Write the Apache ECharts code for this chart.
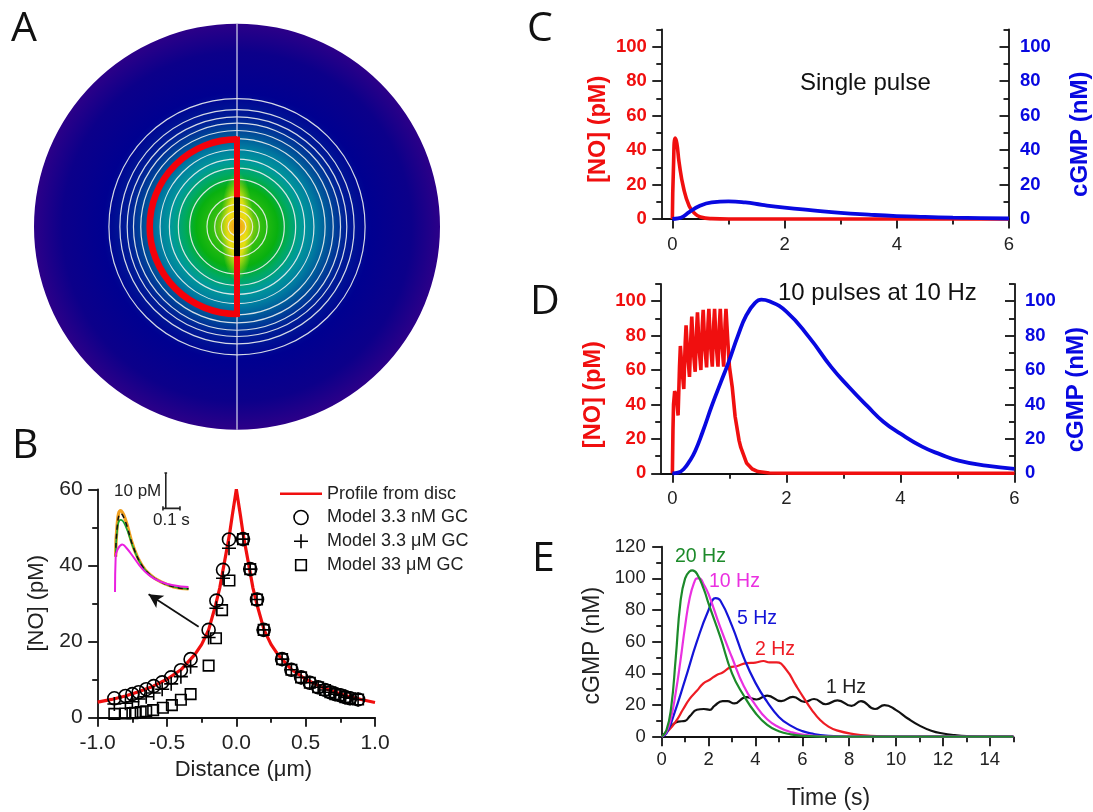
<!DOCTYPE html>
<html><head><meta charset="utf-8">
<style>html,body{margin:0;padding:0;background:#fff}#c{width:1093px;height:812px}</style>
<script src="https://cdn.jsdelivr.net/npm/echarts@6/dist/echarts.min.js"></script>
</head><body><div id="c"></div>
<script>
// ---------- Panel A ----------
const contourRadii = [.631,.577,.541,.510,.474,.434,.379,.333,.289,.233,.148,.110,.077,.044];
const discStops = [0,.03,.07,.12,.2,.26,.32,.39,.46,.54,.66,.86,1];
const discColors = ['#f09a1e','#e8b818','#90cc10','#30be10','#08b010','#00aa60','#009a98','#007ca0','#004e98','#001c96','#000090','#0c008a','#2c0088'];
const contourRingX=[0,0], wholeLineY=[-1,1], redLineY=[-.43,.43], blackLineY=[-.145,.145];
// ---------- Panel B ----------
const profileX = [-1,-.9,-.8,-.7,-.6,-.5,-.4,-.3,-.25,-.2,-.15,-.12,-.1,-.07,-.05,-.03,0,.03,.05,.07,.1,.12,.15,.2,.25,.3,.4,.5,.6,.7,.8,.9,1];
const profileY = [4,4.7,5.6,6.8,8.2,10,12.5,16.5,19.2,23,29.5,34,38,44,48,53,60,53,48,44,38,34,29.5,23,19.2,16.5,12.5,10,8.2,6.8,5.6,4.7,3.9];
const rightX = [.048,.1,.149,.197,.33,.397,.467,.53,.59,.64,.678,.714,.75,.786,.82,.878];
const rightY = [46.9,39,31,23,15.3,12.5,10.5,9.1,7.9,7.2,6.6,6.1,5.8,5.3,5,4.7];
const leftX = [-.053,-.096,-.144,-.2,-.33,-.4,-.47,-.535,-.596,-.65,-.705,-.75,-.8,-.88];
const circleY = [46.8,38.8,30.7,23,15.3,12.4,10.5,9.2,8.2,7.4,6.6,6.1,5.6,5];
const plusY = [44.5,36.6,28.7,21,13.3,10.7,8.8,7.4,6.4,5.4,4.8,4.1,3.7,3.5];
const squareLeftX = [-.05,-.103,-.147,-.2,-.33,-.4,-.465,-.53,-.6,-.65,-.69,-.73,-.75,-.8,-.88];
const squareLeftY = [36,28.2,20.8,13.6,6.1,4.6,3.2,2.5,1.9,1.6,1.4,1.2,1.1,1,.9];
const bXTicks=[-1,-.5,0,.5,1], bXMinor=[-.75,-.25,.25,.75], bYTicks=[0,20,40,60], bYMinor=[10,30,50];
// inset
const insetT = [.004,.014,.034,.06,.11,.16,.21,.27,.35,.44];
const insetOrange = [10.1,19.6,23.2,21,12.9,7.7,4.9,3,1.5,.9];
const insetGreen = [10.1,18,20.6,19.2,12.6,7.6,4.9,3,1.5,.9];
const insetBlack = [10.1,19,22.4,20.4,12.8,7.7,4.9,3,1.5,.9];
const insetMagT = [0,.004,.014,.044,.07,.11,.16,.21,.27,.35,.44];
const insetMag = [0,10,12,13.6,12.5,10,6.8,4.6,3,1.9,1.4];
const barX = [.304,.304,null,.287,.389,null,.296,.312,null,.296,.312,null,.287,.287,null,.389,.389];
const barY = [23.9,34,null,23.9,23.9,null,34,34,null,23.9,23.9,null,23.3,24.5,null,23.3,24.5];
const arrowFrom=[-.272,23.8], arrowTo=[-.633,32.4];
// ---------- Panel C ----------
const cNoT = [0,.02,.05,.08,.12,.2,.3,.4,.5,.7,1,6];
const cNoY = [0,30,47,44,33,18,7.5,3.2,1.2,.2,0,0];
const cCgT = [0,.1,.2,.3,.5,.7,1,1.3,1.6,2,2.5,3,3.5,4,4.5,5,5.5,6];
const cCgY = [0,.3,1.5,4,7.8,9.6,10.2,9.6,8.2,6.6,5,3.5,2.5,1.7,1.2,.8,.5,.3];
// ---------- Panel D ----------
const dNoT = [0,.01,.02,.04,.07,.1,.125,.14,.17,.2,.225,.24,.27,.3,.325,.34,.37,.4,.425,.44,.47,.5,.525,.54,.57,.6,.625,.64,.67,.7,.725,.74,.77,.8,.825,.84,.87,.9,.925,.94,.97,1,1.05,1.1,1.17,1.2,1.3,1.4,1.5,1.7,2,6];
const dNoY = [0,25,40,47.7,45,33.6,62,74,60,49,76,86,68,56,80,91,70,59,84,93.6,72,60,86,95,73,61.5,87,95.5,74,62,87,95.5,74,62,87,95.5,74,62,87,95.5,78,62,50,33,19,15,6,2.5,1,.2,0,0];
const dCgT = [0,.1,.2,.3,.4,.53,.7,.85,.98,1.15,1.3,1.45,1.56,1.7,2,2.4,2.78,3.1,3.42,3.7,4,4.38,4.7,5.02,5.5,6];
const dCgY = [0,.4,2.5,7,13,24,40,53,64,80,92,99,100.9,100,94,79,62,50,39,30,23,15.5,11,7.4,4.4,2.6];
// ---------- Panel E ----------
const eHz20T=[0,.2,.4,.6,.8,1,1.2,1.3,1.5,1.8,2,2.5,3,3.5,4,4.5,5,5.5,6,7,15];
const eHz20=[0,4,18,50,85,100,104.5,105,103,93,84,63,40,26,15,7.5,3.5,1.5,.6,.1,0];
const eHz10T=[0,.2,.4,.6,.8,1,1.2,1.4,1.5,1.6,1.8,2,2.5,3,3.5,4,4.5,5,5.5,6,7,8,15];
const eHz10=[0,3,12,28,48,70,88,98,100,100,96,90,69,50,32,20,11,6,3,1.3,.2,0,0];
const eHz5T=[0,.2,.5,1,1.5,2,2.3,2.5,3,3.5,4,4.5,5,5.5,6,6.5,7,8,15];
const eHz5=[0,2,13,36,60,80,87.5,86,70,50,34,22,12.5,7,3.5,1.7,.7,.1,0];
const eHz2T=[0,.3,.64,.9,1.2,1.5,1.78,2.05,2.35,2.6,2.92,3.2,3.63,4,4.34,4.6,4.9,5.33,5.7,6.04,6.4,6.76,7.1,7.47,8.18,8.9,10,15];
const eHz2=[0,4,10.5,17,24,29,33.7,36,39,40.5,43.8,44.5,46.5,46.8,47.8,47,47,42,33,25,17,10.5,6.5,4,1.7,.6,.1,0];
const eHz1T=[0,.25,.5,.7,1,1.2,1.5,1.8,2.05,2.25,2.6,2.8,3.1,3.6,4.05,4.5,5.1,5.6,6.1,6.5,7,7.5,8.1,8.5,9.1,9.5,10,10.5,11,11.5,12,12.5,13,14,15];
const eHz1=[0,4,8,9.5,10,13,17,17.5,17,19.5,22.5,22.5,21,25,23.5,26,22.5,25.2,22,23.8,20.5,23,19.5,22.5,17.5,20,16.8,11.5,7,3.8,2,1,.4,0,0];
const cdTicks=[0,2,4,6], cdMinor=[1,3,5];
const yTicks100=[0,20,40,60,80,100], yMinor100=[10,30,50,70,90,110];
const eXTicks=[0,2,4,6,8,10,12,14], eXMinor=[1,3,5,7,9,11,13,15];
const eYTicks=[0,20,40,60,80,100,120], eYMinor=[10,30,50,70,90,110];

const pairs=(xs,ys)=>xs.map((x,i)=>[x,ys[i]]);
const FONT='"Liberation Sans",Arial,sans-serif', INK='#222', RED='#f00f0f', BLUE='#0808e0', GREEN='#1c8a2a', MAG='#ea30e0';

const grid=[
 {left:34,top:23.7,width:406,height:406},          //0 A
 {left:97.7,top:489.3,width:277.3,height:228},     //1 B
 {left:115,top:470,width:75,height:122},           //2 inset
 {left:661.8,top:29.5,width:349.8,height:189.5},   //3 C
 {left:660.7,top:284,width:353.8,height:189.3},    //4 D
 {left:661.7,top:546.7,width:351.6,height:190}     //5 E
].map(g=>({...g,containLabel:false}));

const xAxis=[], yAxis=[];
function addPair(list,base,majors,minors,lab){
  const line={color:'#111',width:1.8};
  const idx=list.length;
  list.push({...base,type:'value',splitLine:{show:false},
    axisLine:{show:true,onZero:false,lineStyle:line},
    axisTick:{show:true,customValues:majors,length:9.5,inside:!!base.tickIn,lineStyle:line},
    minorTick:{show:false},
    axisLabel:{show:true,customValues:majors,fontFamily:FONT,hideOverlap:false,...lab}});
  list.push({type:'value',gridIndex:base.gridIndex,position:base.position,min:base.min,max:base.max,splitLine:{show:false},
    axisLine:{show:false,onZero:false},
    axisTick:{show:true,customValues:minors,length:5.5,inside:!!base.tickIn,lineStyle:line},
    axisLabel:{show:false}});
  return idx;
}
const hidden=(g,min,max)=>({type:'value',gridIndex:g,min,max,show:false,splitLine:{show:false}});
// A
xAxis.push(hidden(0,-1,1)); yAxis.push(hidden(0,-1,1));
// B
const bx=addPair(xAxis,{gridIndex:1,position:'bottom',min:-1,max:1,name:'Distance (μm)',nameLocation:'middle',nameGap:42,
  nameTextStyle:{fontFamily:FONT,fontSize:22,color:INK,padding:[0,0,0,14]}},bXTicks,bXMinor,{fontSize:21,color:INK,margin:15,formatter:v=>v.toFixed(1)});
const by=addPair(yAxis,{gridIndex:1,position:'left',min:0,max:60,name:'[NO] (pM)',nameLocation:'middle',nameGap:50,
  nameTextStyle:{fontFamily:FONT,fontSize:22,color:INK}},bYTicks,bYMinor,{fontSize:21,color:INK,margin:15});
// inset
const ix=xAxis.length; xAxis.push(hidden(2,0,.449)); const iy=yAxis.length; yAxis.push(hidden(2,0,34.86));
// C, D
function dual(g,xmin,padL,padR,gapL,gapR,mL,mR){
  const x=addPair(xAxis,{gridIndex:g,position:'bottom',min:xmin,max:6},cdTicks,cdMinor,{fontSize:18.5,color:INK,margin:16});
  const yl=addPair(yAxis,{gridIndex:g,position:'left',min:0,max:110,name:'[NO] (pM)',nameLocation:'middle',nameGap:gapL,
    nameTextStyle:{fontFamily:FONT,fontSize:23.5,fontWeight:'bold',color:RED,padding:padL}},yTicks100,yMinor100,{fontSize:18.5,fontWeight:'bold',color:RED,margin:mL});
  const yr=addPair(yAxis,{gridIndex:g,position:'right',tickIn:true,min:0,max:110,name:'cGMP (nM)',nameLocation:'middle',nameRotate:90,nameGap:gapR,
    nameTextStyle:{fontFamily:FONT,fontSize:24,fontWeight:'bold',color:BLUE,padding:padR}},yTicks100,yMinor100,{fontSize:18.5,fontWeight:'bold',color:BLUE,margin:mR});
  return {x,yl,yr};
}
const C=dual(3,-.188,[0,10,0,0],[0,20,0,0],51,59,15,11);
const D=dual(4,-.205,[0,32,0,0],[0,22,0,0],55.5,50,14.5,10.5);
// E
const ex=addPair(xAxis,{gridIndex:5,position:'bottom',min:0,max:15,name:'Time (s)',nameLocation:'middle',nameGap:50,
  nameTextStyle:{fontFamily:FONT,fontSize:23,color:INK,padding:[0,18,0,0]}},eXTicks,eXMinor,{fontSize:18.5,color:INK,margin:14});
const ey=addPair(yAxis,{gridIndex:5,position:'left',min:0,max:120,name:'cGMP (nM)',nameLocation:'middle',nameGap:58,
  nameTextStyle:{fontFamily:FONT,fontSize:23,color:INK,padding:[0,8,0,0]}},eYTicks,eYMinor,{fontSize:18.5,color:INK,margin:16});

const lineS=(x,y,data,color,width,extra)=>({type:'line',xAxisIndex:x,yAxisIndex:y,data,symbol:'none',silent:true,clip:false,
  lineStyle:{color,width},itemStyle:{color},...extra});
const SM={smooth:.5};
const hollow={color:'rgba(0,0,0,0)',borderColor:'#000',borderWidth:1.6,opacity:1};
const markS=(name,data,symbol,size)=>({name,type:'scatter',xAxisIndex:bx,yAxisIndex:by,data,symbol,symbolSize:size,itemStyle:hollow,silent:true,z:4});
const PLUS='path://M5,0V10M0,5H10';
const LEGEND_SQUARE='path://M-1.6,-1.6L-1.6,-1.6M0,0H10V10H0ZM11.6,11.6L11.6,11.6';
const LEGEND_LINE='path://M0,0H42V2.6H0Z';

const series=[
 {type:'custom',xAxisIndex:0,yAxisIndex:0,silent:true,clip:false,data:[[0,0,1]],z:1,
  renderItem:(p,api)=>{const c=api.coord([0,0]),s=api.size([1,1]);return {type:'group',children:[
    {type:'circle',shape:{cx:c[0],cy:c[1],r:s[0]},style:{fill:new echarts.graphic.RadialGradient(.5,.5,.5,discStops.map((o,i)=>({offset:o,color:discColors[i]})))}},
    {type:'circle',x:c[0],y:c[1],scaleX:.3,shape:{cx:0,cy:0,r:s[0]*.27},style:{fill:new echarts.graphic.RadialGradient(.5,.5,.5,[{offset:0,color:'rgba(245,205,20,1)'},{offset:.55,color:'rgba(240,225,20,.9)'},{offset:1,color:'rgba(200,225,20,0)'}])}},
    {type:'circle',shape:{cx:c[0],cy:c[1],r:s[0]*.06},style:{fill:new echarts.graphic.RadialGradient(.5,.5,.5,[{offset:0,color:'#f08c1e'},{offset:1,color:'rgba(240,170,30,0)'}])}}
  ]};}},
 {type:'custom',xAxisIndex:0,yAxisIndex:0,silent:true,clip:false,z:2,data:contourRadii.map(r=>[0,0,r]),
  renderItem:(p,api)=>{const c=api.coord([0,0]),s=api.size([api.value(2),api.value(2)]);
    return {type:'circle',shape:{cx:c[0],cy:c[1],r:s[0]},style:{fill:'none',stroke:'rgba(235,240,240,.9)',lineWidth:1.2}};}},
 lineS(0,0,pairs(contourRingX,wholeLineY),'#d8d8ec',1.2,{z:2}),
 {type:'custom',xAxisIndex:0,yAxisIndex:0,silent:true,clip:false,z:3,data:[[0,0,.43]],
  renderItem:(p,api)=>{const c=api.coord([0,0]),s=api.size([api.value(2),api.value(2)]);
    return {type:'arc',shape:{cx:c[0],cy:c[1],r:s[0],startAngle:Math.PI/2,endAngle:Math.PI*1.5,clockwise:true},style:{fill:'none',stroke:'#f4000a',lineWidth:6.6}};}},
 lineS(0,0,pairs(contourRingX,redLineY),'#f4000a',6,{z:3,lineStyle:{color:'#f4000a',width:6,cap:'square'}}),
 lineS(0,0,pairs(contourRingX,blackLineY),'#000',6,{z:4}),

 lineS(bx,by,pairs(profileX,profileY),RED,3.2,{name:'Profile from disc',z:3,
   markLine:{silent:true,animation:false,symbol:['none','arrow'],symbolSize:[11,14],label:{show:false},lineStyle:{color:'#111',width:1.8,type:'solid'},
     data:[[{coord:arrowFrom},{coord:arrowTo}]]}}),
 markS('Model 3.3 nM GC',pairs(rightX,rightY).concat(pairs(leftX,circleY)),'circle',13),
 markS('Model 3.3 μM GC',pairs(rightX,rightY).concat(pairs(leftX,plusY)),PLUS,14),
 markS('Model 33 μM GC',pairs(rightX,rightY).concat(pairs(squareLeftX,squareLeftY)),'rect',10.5),

 lineS(ix,iy,pairs(insetT,insetOrange),'#f0a020',3.4,SM),
 lineS(ix,iy,pairs(insetT,insetGreen),'#18a030',1.6,{z:3,...SM}),
 lineS(ix,iy,pairs(insetT,insetBlack),'#111',1.5,{z:4,...SM,lineStyle:{color:'#111',width:1.5,type:[5,4]}}),
 lineS(ix,iy,pairs(insetMagT,insetMag),'#ea20e0',2,{z:5,...SM}),
 lineS(ix,iy,pairs(barX,barY),'#222',1.6,{connectNulls:false}),

 lineS(C.x,C.yl,pairs(cNoT,cNoY),RED,3.6,SM),
 lineS(C.x,C.yr,pairs(cCgT,cCgY),BLUE,3.8,SM),
 lineS(D.x,D.yl,pairs(dNoT,dNoY),RED,3.6),
 lineS(D.x,D.yr,pairs(dCgT,dCgY),BLUE,3.8,SM),

 lineS(ex,ey,pairs(eHz1T,eHz1),'#111',2.2,SM),
 lineS(ex,ey,pairs(eHz2T,eHz2),'#ee1c24',2.2,SM),
 lineS(ex,ey,pairs(eHz5T,eHz5),'#1414d8',2.2,SM),
 lineS(ex,ey,pairs(eHz10T,eHz10),MAG,2.2,SM),
 lineS(ex,ey,pairs(eHz20T,eHz20),GREEN,2.2,SM)
];

const txt=(text,x,y,size,color,family,align)=>({type:'text',x,y,silent:true,z:20,style:{text,fontFamily:family||FONT,fontSize:size,fill:color||INK,textAlign:align||'left',textVerticalAlign:'middle'}});
const OS='"Open Sans",sans-serif';
const graphic=[
 txt('A',11,29,41,'#111',OS), txt('B',12,446,41,'#111',OS), txt('C',527,29,41,'#111',OS), txt('D',530,302,41,'#111',OS), txt('E',532,559,41,'#111',OS),
 txt('10 pM',114,491,17), txt('0.1 s',153,520,17),
 txt('Single pulse',800,83,24,'#111'), txt('10 pulses at 10 Hz',778,293,24,'#111'),
 txt('20 Hz',675,557,19.5,GREEN), txt('10 Hz',709,582,19.5,MAG), txt('5 Hz',737,619,19.5,'#1414d8'), txt('2 Hz',755,650,19.5,'#ee1c24'), txt('1 Hz',826,688,19.5,'#222')
];

const chart=echarts.init(document.getElementById('c'),null,{renderer:'canvas'});
chart.setOption({animation:false,backgroundColor:'#fff',grid,xAxis,yAxis,series,graphic,
 legend:{show:true,orient:'vertical',left:275,top:479.7,itemWidth:42,itemHeight:14,itemGap:5.8,itemStyle:{borderWidth:1.6},selectedMode:false,
   textStyle:{fontFamily:FONT,fontSize:18,color:INK,padding:[0,0,0,0]},
   data:[{name:'Profile from disc',icon:LEGEND_LINE,itemStyle:{color:RED,borderWidth:0}},{name:'Model 3.3 nM GC'},{name:'Model 3.3 μM GC'},{name:'Model 33 μM GC',icon:LEGEND_SQUARE}]}
});
</script></body></html>
